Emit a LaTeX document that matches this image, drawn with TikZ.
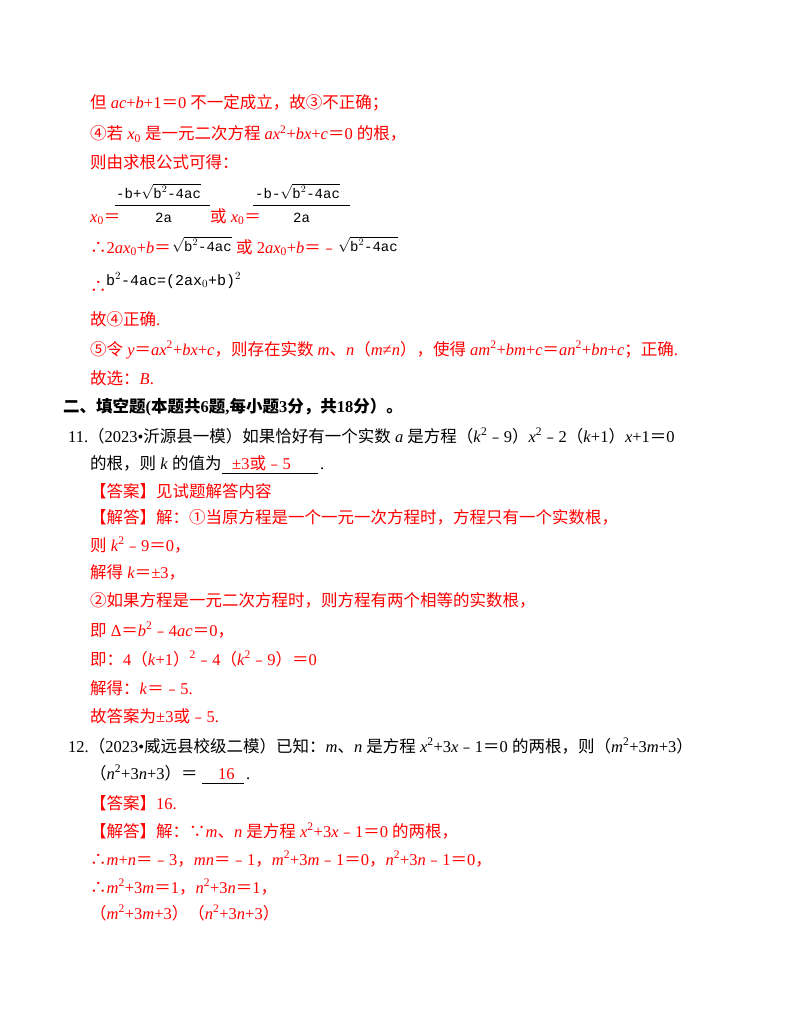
\documentclass[tikz,border=0pt]{standalone}
\usepackage{fontspec}
\setmainfont{Liberation Serif}
\setmonofont{Liberation Mono}
\newfontfamily\cjk{Noto Sans CJK SC}
\newcommand\zh[1]{{\cjk #1}}
\newcommand\I[1]{\textit{#1}}
\newcommand\bz[1]{{\cjk\bfseries #1}}
\begin{document}
\begin{tikzpicture}[x=1pt,y=-1pt,
  t/.style={anchor=base west,inner sep=0pt,font=\fontsize{16.5}{18}\selectfont},
  r/.style={t,text=red},
  k/.style={t,text=black},
  m/.style={anchor=base west,inner sep=0pt,font=\fontsize{14}{16}\ttfamily}]
\useasboundingbox[fill=white] (0,0) rectangle (800,1035);
\node[r] (l1) at (90,109) {\zh{但} \I{ac}+\I{b}+1\zh{＝}0 \zh{不一定成立，故③不正确；}};
\node[r] (l2) at (90,140) {\zh{④若} \I{x}\textsubscript{0} \zh{是一元二次方程} \I{ax}\textsuperscript{2}+\I{bx}+\I{c}\zh{＝}0 \zh{的根，}};
\node[r] (l3) at (90,168) {\zh{则由求根公式可得：}};
% fractions
\node[r] (x1) at (90,222) {\I{x}\textsubscript{0}\zh{＝}};
\node[m] (n1) at (116,198) {-b+$\sqrt{\mbox{\ttfamily b$^2$-4ac}}$};
\draw (115,205) -- (210,205);
\node[m] (d1) at (155,222) {2a};
\node[r] (x2) at (210,222) {\zh{或} \I{x}\textsubscript{0}\zh{＝}};
\node[m] (n2) at (255,198) {-b-$\sqrt{\mbox{\ttfamily b$^2$-4ac}}$};
\draw (253,205) -- (350,205);
\node[m] (d2) at (293,222) {2a};
\node[r] (l5) at (90,253) {\zh{∴}2\I{ax}\textsubscript{0}+\I{b}\zh{＝}};
\node[m] (s1) at (172,251) {$\sqrt{\mbox{\ttfamily b$^2$-4ac}}$};
\node[r] (l5b) at (236,253) {\zh{或} 2\I{ax}\textsubscript{0}+\I{b}\zh{＝﹣}};
\node[m] (s2) at (338,251) {$\sqrt{\mbox{\ttfamily b$^2$-4ac}}$};
\node[r] (l6) at (90,292) {\zh{∴}};
\node[m] (l6b) at (106,285) {\fontsize{15}{17}\selectfont b$^2$-4ac=(2ax$_0$+b)$^2$};
\node[r] (l7) at (90,325) {\zh{故④正确}.};
\node[r] (l8) at (90,355) {\zh{⑤令} \I{y}\zh{＝}\I{ax}\textsuperscript{2}+\I{bx}+\I{c}\zh{，则存在实数} \I{m}\zh{、}\I{n}\zh{（}\I{m}≠\I{n}\zh{），使得} \I{am}\textsuperscript{2}+\I{bm}+\I{c}\zh{＝}\I{an}\textsuperscript{2}+\I{bn}+\I{c}\zh{；正确}.};
\node[r] (l9) at (90,384) {\zh{故选：}\I{B}.};
\node[k] (h2) at (63,412) {\bz{二、填空题}\textbf{(}\bz{本题共}\textbf{6}\bz{题}\textbf{,}\bz{每小题}\textbf{3}\bz{分，共}\textbf{18}\bz{分）。}};
\node[k] (q11) at (68,442) {11.\zh{（}2023•\zh{沂源县一模）如果恰好有一个实数} \I{a} \zh{是方程（}\I{k}\textsuperscript{2}\zh{﹣}9\zh{）}\I{x}\textsuperscript{2}\zh{﹣}2\zh{（}\I{k}+1\zh{）}\I{x}+1\zh{＝}0};
\node[k] (q11b) at (90,469) {\zh{的根，则} \I{k} \zh{的值为}};
\node[r] (a11) at (232,469) {±3\zh{或﹣}5};
\draw (222,473) -- (318,473);
\node[k] (p11) at (320,469) {.};
\node[r] (l13) at (90,497) {\zh{【答案】见试题解答内容}};
\node[r] (l14) at (90,523) {\zh{【解答】解：①当原方程是一个一元一次方程时，方程只有一个实数根，}};
\node[r] (l15) at (90,551) {\zh{则} \I{k}\textsuperscript{2}\zh{﹣}9\zh{＝}0\zh{，}};
\node[r] (l16) at (90,578) {\zh{解得} \I{k}\zh{＝}±3\zh{，}};
\node[r] (l17) at (90,606) {\zh{②如果方程是一元二次方程时，则方程有两个相等的实数根，}};
\node[r] (l18) at (90,636) {\zh{即} Δ\zh{＝}\I{b}\textsuperscript{2}\zh{﹣}4\I{ac}\zh{＝}0\zh{，}};
\node[r] (l19) at (90,665) {\zh{即：}4\zh{（}\I{k}+1\zh{）}\textsuperscript{2}\zh{﹣}4\zh{（}\I{k}\textsuperscript{2}\zh{﹣}9\zh{）＝}0};
\node[r] (l20) at (90,694) {\zh{解得：}\I{k}\zh{＝﹣}5.};
\node[r] (l21) at (90,722) {\zh{故答案为}±3\zh{或﹣}5.};
\node[k] (q12) at (68,752) {12.\zh{（}2023•\zh{威远县校级二模）已知：}\I{m}\zh{、}\I{n} \zh{是方程} \I{x}\textsuperscript{2}+3\I{x}\zh{﹣}1\zh{＝}0 \zh{的两根，则（}\I{m}\textsuperscript{2}+3\I{m}+3\zh{）}};
\node[k] (q12b) at (90,779) {\zh{（}\I{n}\textsuperscript{2}+3\I{n}+3\zh{）＝}};
\node[r] (a12) at (218,779) {16};
\draw (202,783) -- (244,783);
\node[k] (p12) at (246,779) {.};
\node[r] (l24) at (90,809) {\zh{【答案】}16.};
\node[r] (l25) at (90,837) {\zh{【解答】解：∵}\I{m}\zh{、}\I{n} \zh{是方程} \I{x}\textsuperscript{2}+3\I{x}\zh{﹣}1\zh{＝}0 \zh{的两根，}};
\node[r] (l26) at (90,865) {\zh{∴}\I{m}+\I{n}\zh{＝﹣}3\zh{，}\I{mn}\zh{＝﹣}1\zh{，}\I{m}\textsuperscript{2}+3\I{m}\zh{﹣}1\zh{＝}0\zh{，}\I{n}\textsuperscript{2}+3\I{n}\zh{﹣}1\zh{＝}0\zh{，}};
\node[r] (l27) at (90,893) {\zh{∴}\I{m}\textsuperscript{2}+3\I{m}\zh{＝}1\zh{，}\I{n}\textsuperscript{2}+3\I{n}\zh{＝}1\zh{，}};
\node[r] (l28) at (90,919) {\zh{（}\I{m}\textsuperscript{2}+3\I{m}+3\zh{）（}\I{n}\textsuperscript{2}+3\I{n}+3\zh{）}};
\end{tikzpicture}
\end{document}
